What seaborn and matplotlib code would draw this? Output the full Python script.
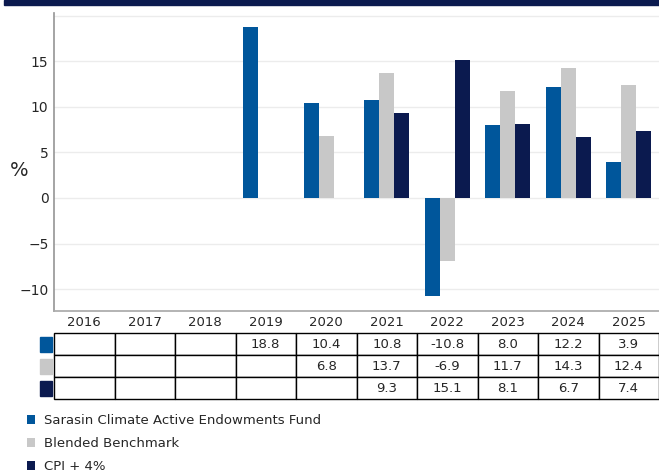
import numpy as np
import pandas as pd
import matplotlib
matplotlib.use("Agg")
import matplotlib.pyplot as plt
import seaborn as sns
from matplotlib.patches import Rectangle

# Data
years = ["2016", "2017", "2018", "2019", "2020", "2021", "2022", "2023", "2024", "2025"]
fund = [np.nan, np.nan, np.nan, 18.8, 10.4, 10.8, -10.8, 8.0, 12.2, 3.9]
benchmark = [np.nan, np.nan, np.nan, np.nan, 6.8, 13.7, -6.9, 11.7, 14.3, 12.4]
cpi = [np.nan, np.nan, np.nan, np.nan, np.nan, 9.3, 15.1, 8.1, 6.7, 7.4]
series_names = ["Sarasin Climate Active Endowments Fund", "Blended Benchmark", "CPI + 4%"]
colors = ["#00569b", "#c8c8c8", "#0b1a4f"]

sns.set_theme(style="white")
plt.rcParams["font.family"] = ["DejaVu Sans"]

df = pd.DataFrame({
    "Year": years * 3,
    "Series": [series_names[0]] * 10 + [series_names[1]] * 10 + [series_names[2]] * 10,
    "Value": fund + benchmark + cpi,
})

W, H = 659, 473
fig = plt.figure(figsize=(W / 100, H / 100), dpi=100)
ax = fig.add_axes([54 / W, 1 - 311 / H, 605 / W, 298 / H])

sns.barplot(data=df.dropna(), x="Year", y="Value", hue="Series", order=years,
            hue_order=series_names, palette=colors, width=0.75, saturation=1,
            errorbar=None, ax=ax, linewidth=0)

ax.set_xlim(-0.5, 9.5)
ax.set_ylim(-12.4, 20.3)
ax.set_yticks([-10, -5, 0, 5, 10, 15, 20])
ax.set_yticklabels(["\u221210", "\u22125", "0", "5", "10", "15", ""], fontsize=10)
ax.yaxis.grid(True, color="#ececec", linewidth=1)
ax.set_axisbelow(True)
ax.tick_params(axis="y", length=0, pad=4)
ax.set_xticks([])
ax.set_xlabel("")
ax.set_ylabel("%", fontsize=14, rotation=0)
ax.yaxis.set_label_coords(-0.058, 0.44)
for s in ["top", "right"]:
    ax.spines[s].set_visible(False)
ax.spines["left"].set_color("#999999")
ax.spines["bottom"].set_color("#aaaaaa")

handles, labels = ax.get_legend_handles_labels()
ax.get_legend().remove()

# Table beneath the chart
def fmt(v):
    return "" if np.isnan(v) else f"{v:.1f}"

cell_text = [[fmt(v) for v in row] for row in (fund, benchmark, cpi)]
tbl = ax.table(cellText=cell_text, colLabels=years, cellLoc="center",
               bbox=[0, -88 / 298, 1, 88 / 298])
tbl.auto_set_font_size(False)
tbl.set_fontsize(9.5)
for (r, c), cell in tbl.get_celld().items():
    cell.set_linewidth(1)
    cell.set_edgecolor("black")
    if r == 0:
        cell.set_edgecolor("none")

# Colour keys at the row starts
for i, col in enumerate(colors):
    y0 = 1 - (352 + 22 * i) / H
    fig.patches.append(Rectangle((40 / W, y0), 12 / W, 15 / H, transform=fig.transFigure,
                                 color=col, zorder=5))

# Top navy band
fig.patches.append(Rectangle((4 / W, 1 - 5 / H), 1, 5 / H, transform=fig.transFigure,
                             color="#0b1a4f", zorder=5))

fig.legend(handles, labels, loc="upper left", bbox_to_anchor=(22 / W, 1 - 409 / H),
           frameon=False, fontsize=9.5, handlelength=0.6, handleheight=0.6,
           handletextpad=0.7, labelspacing=0.75, borderaxespad=0)

fig.savefig("out.png", dpi=100)
